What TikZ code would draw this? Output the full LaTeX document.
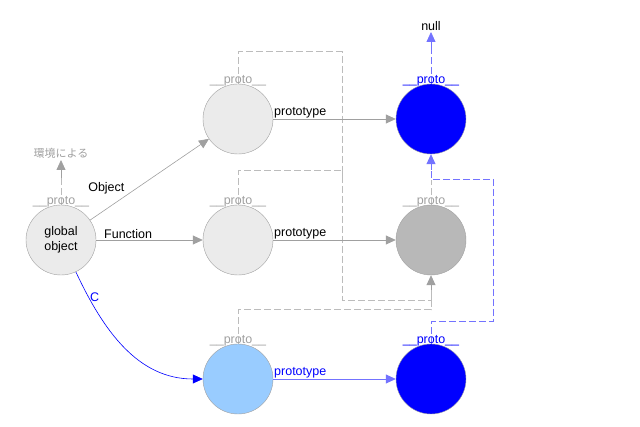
\documentclass[tikz,border=0pt]{standalone}
\usepackage{fontspec}
\setmainfont{Liberation Sans}
\newfontfamily\cjk{Noto Sans CJK JP}
\usetikzlibrary{arrows.meta}
\definecolor{hellgrau}{HTML}{EBEBEB}
\definecolor{mittelgrau}{HTML}{B8B8B8}
\definecolor{linie}{HTML}{A0A0A0}
\definecolor{hellblau}{HTML}{99CCFF}
\begin{document}
\begin{tikzpicture}[x=1pt,y=-1pt,
punkt/.style={circle, minimum size=70pt, inner sep=0pt, draw=linie, fill=hellgrau, font=\fontsize{12.5}{15}\selectfont, align=center},
blaupunkt/.style={punkt, fill=blue},
pfeil/.style={-{Triangle[length=10pt,width=9pt]}, linie, thick},
strich/.style={linie!70, dash pattern=on 7pt off 3pt, thick},
blaustrich/.style={draw=blue!55, dash pattern=on 7pt off 3pt, thick},
proto/.style={above, inner sep=1pt, yshift=-3pt, linie, font=\fontsize{12.5}{15}\selectfont},
beschr/.style={font=\fontsize{12.5}{15}\selectfont, inner sep=1pt},
]
\useasboundingbox (0,0) rectangle (640,427);

\node[punkt] (G) at (61,240) {global\\object};
\node[punkt] (O) at (238,119) {};
\node[punkt] (F) at (238,240) {};
\node[punkt, fill=hellblau] (C) at (238,379) {};
\node[blaupunkt] (OP) at (431,119) {};
\node[punkt, fill=mittelgrau] (FP) at (431,240) {};
\node[blaupunkt] (CP) at (431,379) {};

\coordinate (null) at (431,32);
\coordinate (umg) at (61,160);
\node[beschr, above] at (null) {null};
\node[beschr, above, linie, font=\cjk\fontsize{11}{13}\selectfont] at (umg) {環境による};

%__proto__ Ketten
\draw[strich] (O.north) -- ++(0,-32) -| (342,300) -| (431,290);
\draw[strich] (F.north) -- ++(0,-34) -| (342,180);
\draw[strich] (C.north) -- ++(0,-34) -| (431,290);
\draw[pfeil, linie] (431,290) -- (FP.south);
\draw[strich] (FP.north) -- (431,180);
\draw[blaustrich] (CP.north) -- ++(0,-22) -| (493,179) -| (431,170);
\draw[pfeil, blue!55] (431,170) -- (OP.south);
\draw[blaustrich] (OP.north) -- (431,48);
\draw[pfeil, blue!55] (431,48) -- (null);
\draw[strich] (G.north) -- (61,178);
\draw[pfeil] (61,178) -- (umg);

\foreach \n in {G,O,F,C,FP} {\node[proto] at (\n.north) {\_\_proto\_\_};}
\foreach \n in {OP,CP} {\node[proto, blue] at (\n.north) {\_\_proto\_\_};}

%Eigenschaften
\draw[pfeil, semithick] (G) -- node[beschr, pos=0.3, above left, black] {Object} (O);
\draw[pfeil] (G) -- node[beschr, pos=0.3, above, black] {Function} (F);
\draw[pfeil, blue, semithick] (G) to[out=-65, in=180] node[beschr, pos=0.15, right, blue] {C} (C);
\draw[pfeil] (O.center) ++(35,0) coordinate (o1) (o1) -- (OP);
\node[beschr, above right, black] at (o1) {prototype};
\draw[pfeil] (F.center) ++(35,0) coordinate (f1) (f1) -- (FP);
\node[beschr, above right, black] at (f1) {prototype};
\draw[pfeil, blue!55] (C.center) ++(35,0) coordinate (c1) (c1) -- (CP);
\node[beschr, above right, blue] at (c1) {prototype};

\end{tikzpicture}
\end{document}
